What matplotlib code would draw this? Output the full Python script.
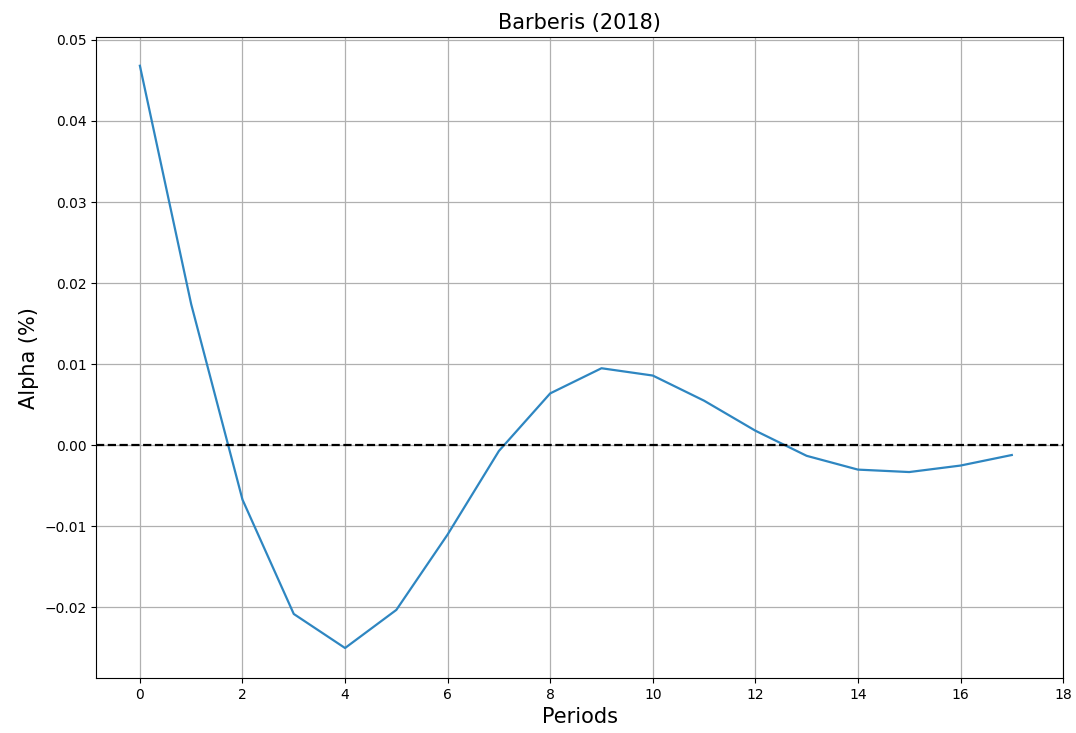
import matplotlib
matplotlib.use("Agg")
import matplotlib.pyplot as plt

# Alpha by holding period
periods = list(range(18))
alpha = [0.0468, 0.0174, -0.0067, -0.0208, -0.0250, -0.0203, -0.0110, -0.0007,
         0.0064, 0.0095, 0.0086, 0.0055, 0.0018, -0.0013, -0.0030, -0.0033,
         -0.0025, -0.0012]
xticks = list(range(0, 19, 2))

fig = plt.figure(figsize=(10.76, 7.33), dpi=100)
ax = fig.add_axes([0.0895, 0.075, 0.8985, 0.874])

ax.plot(periods, alpha, color="#2e86c1", linewidth=1.6)
ax.axhline(0, color="black", linestyle="--", linewidth=1.6)

ax.set_xticks(xticks)
ax.set_xlim(-0.85, 18)
ax.set_ylim(-0.0287, 0.0503)
ax.grid(True, color="#b0b0b0", linewidth=0.9)

ax.set_title("Barberis (2018)", fontsize=15)
ax.set_xlabel("Periods", fontsize=15)
ax.set_ylabel("Alpha (%)", fontsize=15)

fig.savefig("out.png", dpi=100)
